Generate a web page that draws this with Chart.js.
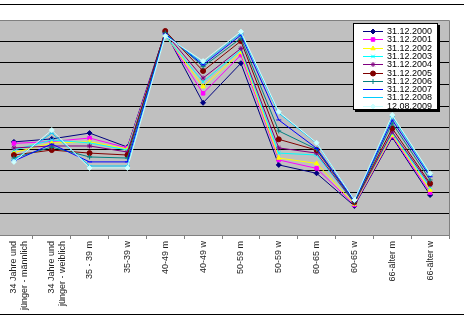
<!DOCTYPE html>
<html>
<head>
<meta charset="utf-8">
<script src="https://cdn.jsdelivr.net/npm/chart.js@4.4.0/dist/chart.umd.min.js"></script>
<style>
  html, body { margin: 0; padding: 0; background: #fff; overflow: hidden; }
  #wrap { position: absolute; left: -10px; top: 0; width: 474px; height: 319px; }
</style>
</head>
<body>
<div id="wrap"><canvas id="chart" width="474" height="319"></canvas></div>
<script>
// categories (x axis)
const categories = [
  ['34 Jahre und', 'jünger - männlich'],
  ['34 Jahre und', 'jünger - weiblich'],
  '35 - 39 m', '35-39 w', '40-49 m', '40-49 w',
  '50-59 m', '50-59 w', '60-65 m', '60-65 w', '66-älter m', '66-älter w'
];

// series names
const seriesNames = ['31.12.2000', '31.12.2001', '31.12.2002', '31.12.2003', '31.12.2004',
                     '31.12.2005', '31.12.2006', '31.12.2007', '31.12.2008', '12.08.2009'];

// values (y axis labels are cut off, units are gridline tenths)
const v2000 = [43.3, 44.7, 47.4, 40.9, 94.4, 61.5, 79.9, 32.6, 28.7, 13.5, 45.4, 18.6];
const v2001 = [42.6, 43.5, 45.1, 40.5, 93.5, 65.9, 83.7, 34.9, 31.0, 14.0, 46.0, 19.7];
const v2002 = [38.3, 42.8, 43.4, 40.0, 93.0, 69.0, 85.0, 35.8, 33.3, 14.4, 46.5, 20.9];
const v2003 = [39.5, 44.2, 42.8, 39.5, 92.6, 71.3, 86.0, 38.1, 37.2, 14.9, 47.4, 22.2];
const v2004 = [40.5, 41.4, 41.4, 38.6, 94.0, 73.0, 86.8, 40.5, 38.1, 14.9, 48.0, 23.3];
const v2005 = [37.2, 39.5, 38.1, 37.2, 94.9, 76.3, 90.2, 44.5, 39.5, 15.3, 49.6, 24.0];
const v2006 = [35.8, 40.9, 36.3, 35.8, 94.0, 78.3, 91.5, 48.4, 39.9, 15.3, 52.0, 25.6];
const v2007 = [34.4, 42.3, 34.0, 34.0, 93.5, 79.1, 93.0, 53.5, 40.3, 15.8, 53.5, 27.1];
const v2008 = [34.9, 47.4, 32.1, 32.1, 93.0, 79.9, 93.8, 56.7, 42.7, 16.3, 55.0, 27.9];
const v2009 = [34.0, 48.8, 31.2, 31.2, 92.6, 80.9, 94.6, 57.3, 42.9, 16.3, 55.8, 28.7];
const seriesValues = [v2000, v2001, v2002, v2003, v2004, v2005, v2006, v2007, v2008, v2009];

const colors = ['#000080', '#ff00ff', '#ffff00', '#00ffff', '#800080',
                '#800000', '#008080', '#0000ff', '#00ccff', '#ccffff'];
const markers = ['rectRot', 'rect', 'triangle', 'crossRot', 'star',
                 'circle', 'cross', 'line', 'line', 'rectRot'];

const FONT = '"Liberation Sans", Arial, sans-serif';

const datasets = seriesNames.map((name, i) => ({
  label: name,
  data: seriesValues[i],
  borderColor: colors[i],
  backgroundColor: colors[i],
  borderWidth: 1,
  pointStyle: markers[i],
  pointRadius: 2.5,
  pointBorderWidth: 1,
  pointBorderColor: colors[i],
  pointBackgroundColor: colors[i],
  tension: 0,
  order: seriesNames.length - i
}));

function drawMarker(ctx, style, x, y, r) {
  if (Chart.helpers && Chart.helpers.drawPoint) {
    Chart.helpers.drawPoint(ctx, { pointStyle: style, radius: r, rotation: 0, borderWidth: 1 }, x, y);
  } else {
    ctx.beginPath(); ctx.arc(x, y, r, 0, Math.PI * 2); ctx.fill(); ctx.stroke();
  }
}

const framePlugin = {
  id: 'frame',
  beforeDraw(chart) {
    const { ctx, chartArea: a } = chart;
    ctx.save();
    ctx.fillStyle = '#c0c0c0';
    ctx.fillRect(a.left, a.top, a.right - a.left, a.bottom - a.top);
    ctx.restore();
  },
  afterDraw(chart) {
    const { ctx, chartArea: a, width } = chart;
    ctx.save();
    // plot area border
    ctx.strokeStyle = '#808080';
    ctx.lineWidth = 1;
    const r = Math.round(a.right) + 0.5, t = Math.round(a.top) + 0.5;
    ctx.beginPath();
    ctx.moveTo(a.left, t);
    ctx.lineTo(r, t);
    ctx.lineTo(r, a.bottom + 4);
    ctx.stroke();
    // chart border lines
    ctx.fillStyle = '#000';
    ctx.fillRect(0, 4, width, 1);
    ctx.fillRect(0, 314, width, 1);

    // legend box
    const lx = 363, ly = 23, lw = 85, lh = 87;
    ctx.fillStyle = '#000';
    ctx.fillRect(lx + 2, ly + 2, lw, lh);
    ctx.fillStyle = '#fff';
    ctx.fillRect(lx, ly, lw, lh);
    ctx.strokeStyle = '#000';
    ctx.strokeRect(lx + 0.5, ly + 0.5, lw - 1, lh - 1);

    ctx.font = '9px ' + FONT;
    ctx.textBaseline = 'middle';
    chart.data.datasets.forEach((ds, i) => {
      const y = Math.round(31 + 8.3 * i) + 0.5;
      ctx.strokeStyle = ds.borderColor;
      ctx.fillStyle = ds.borderColor;
      ctx.lineWidth = 1;
      ctx.beginPath();
      ctx.moveTo(373, y);
      ctx.lineTo(393, y);
      ctx.stroke();
      drawMarker(ctx, ds.pointStyle, 383, y, 2.5);
      ctx.fillStyle = '#000';
      ctx.fillText(ds.label, 397, y);
    });
    ctx.restore();
  }
};

new Chart(document.getElementById('chart'), {
  type: 'line',
  data: { labels: categories, datasets },
  options: {
    responsive: false,
    animation: false,
    devicePixelRatio: 1,
    layout: { padding: { left: 5, right: 15, top: 20, bottom: 0 } },
    plugins: { legend: { display: false }, tooltip: { enabled: false } },
    scales: {
      x: {
        offset: true,
        afterFit: s => { s.height = 84; },
        border: { display: true, color: '#808080' },
        grid: { offset: true, drawOnChartArea: false, drawTicks: true, tickLength: 4, color: '#808080' },
        ticks: {
          autoSkip: false, minRotation: 90, maxRotation: 90, padding: 2,
          color: '#222', font: { family: FONT, size: 9 }
        }
      },
      y: {
        min: 0, max: 100,
        border: { display: false },
        grid: { color: '#000', lineWidth: 1, drawTicks: false },
        ticks: { display: false, stepSize: 10 }
      }
    }
  },
  plugins: [framePlugin]
});
</script>
</body>
</html>
